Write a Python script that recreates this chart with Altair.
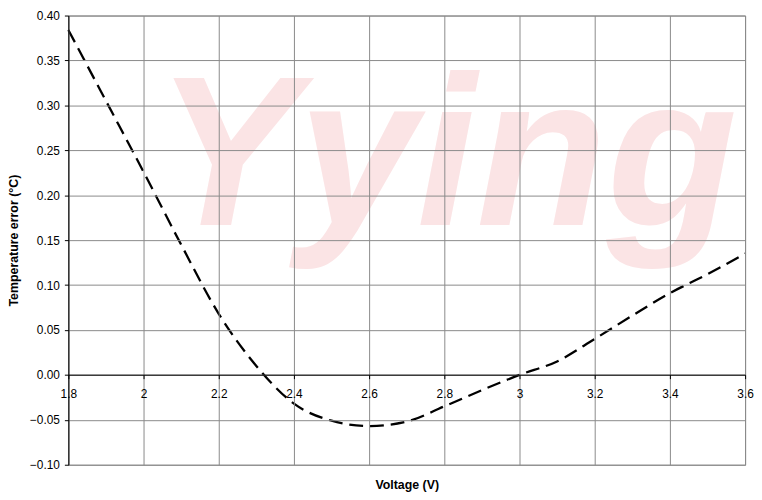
import altair as alt
import pandas as pd

# Data
voltage = [1.8, 1.9, 2.0, 2.1, 2.2, 2.3, 2.4, 2.5, 2.6, 2.7, 2.8, 2.9, 3.0, 3.1, 3.2, 3.3, 3.4, 3.5, 3.6]
temp_error = [0.384, 0.305, 0.226, 0.145, 0.068, 0.010, -0.032, -0.051, -0.057, -0.052, -0.035, -0.017, 0.000, 0.015, 0.040, 0.066, 0.091, 0.112, 0.135]

x_ticks = [1.8, 2.0, 2.2, 2.4, 2.6, 2.8, 3.0, 3.2, 3.4, 3.6]
y_ticks = [-0.10, -0.05, 0.00, 0.05, 0.10, 0.15, 0.20, 0.25, 0.30, 0.35, 0.40]
watermark = ["Yying"]

df = pd.DataFrame({"voltage": voltage, "error": temp_error})
wm = pd.DataFrame({"label": watermark})

FONT = "Liberation Sans"
W, H = 684, 454

x_scale = alt.Scale(domain=[1.8, 3.6], nice=False, zero=False)
y_scale = alt.Scale(domain=[-0.10, 0.40], nice=False, zero=False)

wm_layer = alt.Chart(wm).mark_text(
    font="Liberation Sans",
    fontSize=216,
    fontStyle="italic",
    fontWeight="bold",
    color="#fbe4e5",
    align="left",
    baseline="alphabetic",
).encode(
    text="label:N",
    x=alt.value(88),
    y=alt.value(212),
)

line = alt.Chart(df).mark_line(
    color="black",
    strokeWidth=2.3,
    strokeDash=[14, 7],
    interpolate="monotone",
).encode(
    x=alt.X(
        "voltage:Q",
        scale=x_scale,
        axis=alt.Axis(
            values=x_ticks,
            format=".1~f",
            title="Voltage (V)",
            offset=-91,
            domainColor="black",
            domainWidth=1,
            tickColor="black",
            tickSize=4,
            labelPadding=10,
            labelAlign="center",
            labelFont=FONT,
            labelFontSize=12,
            labelColor="black",
            labelFlush=False,
            labelOverlap=False,
            grid=True,
            gridColor="#8a8a8a",
            gridWidth=1,
            titleFont=FONT,
            titleFontSize=12.5,
            titleFontWeight="bold",
            titleColor="black",
            titlePadding=80,
            zindex=1,
        ),
    ),
    y=alt.Y(
        "error:Q",
        scale=y_scale,
        axis=alt.Axis(
            values=y_ticks,
            format=".2f",
            title="Temperature error (°C)",
            domainColor="black",
            domainWidth=1,
            tickColor="black",
            tickSize=4,
            labelPadding=5,
            labelFont=FONT,
            labelFontSize=12,
            labelColor="black",
            labelOverlap=False,
            labelFlush=False,
            grid=True,
            gridColor="#8a8a8a",
            gridWidth=1,
            titleFont=FONT,
            titleFontSize=12.5,
            titleFontWeight="bold",
            titleColor="black",
            titlePadding=9,
            zindex=1,
        ),
    ),
)

chart = alt.layer(wm_layer, line).properties(
    width=W,
    height=H,
    autosize=alt.AutoSizeParams(type="none"),
    padding={"left": 61, "top": 5, "right": 9, "bottom": 30},
    background="white",
).configure_view(
    stroke="#8a8a8a",
    strokeWidth=1,
)

chart.save("out.html", embed_options={"renderer": "svg", "actions": False})
